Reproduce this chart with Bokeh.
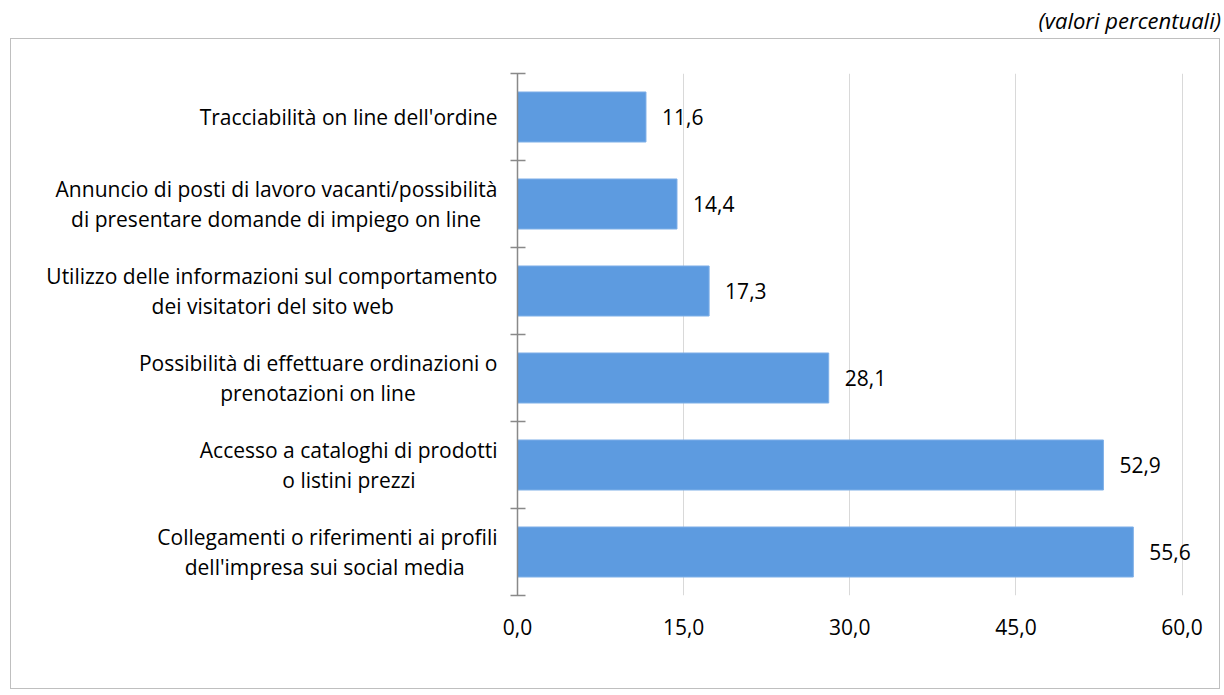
from bokeh.plotting import figure
from bokeh.models import Range1d, FixedTicker, ColumnDataSource, Div
from bokeh.layouts import column
from bokeh.core.properties import value
from bokeh.embed import file_html
from bokeh.resources import INLINE

# Data (top to bottom as shown in the chart)
categories = [
    "Tracciabilità on line dell'ordine",
    "Annuncio di posti di lavoro vacanti/possibilità\ndi presentare domande di impiego on line",
    "Utilizzo delle informazioni sul comportamento\ndei visitatori del sito web",
    "Possibilità di effettuare ordinazioni o\nprenotazioni on line",
    "Accesso a cataloghi di prodotti\no listini prezzi",
    "Collegamenti o riferimenti ai profili\ndell'impresa sui social media",
]
values = [11.6, 14.4, 17.3, 28.1, 52.9, 55.6]
x_ticks = [0, 15, 30, 45, 60]
x_tick_labels = ["0,0", "15,0", "30,0", "45,0", "60,0"]
subtitle = "(valori percentuali)"

FONT = "Open Sans"
FS = "21px"

# approximate Open Sans advance widths (units per em = 2048), used only to
# centre the second line of a two-line category label under the first one
_W = {"a": 1139, "b": 1255, "c": 975, "d": 1255, "e": 1149, "f": 694, "g": 1122,
      "h": 1257, "i": 518, "j": 518, "k": 1075, "l": 518, "m": 1905, "n": 1257,
      "o": 1237, "p": 1255, "q": 1255, "r": 836, "s": 977, "t": 723, "u": 1257,
      "v": 1026, "w": 1593, "x": 1073, "y": 1028, "z": 979, "à": 1139, " ": 532,
      "'": 393, "/": 753, "A": 1296, "C": 1292, "P": 1237, "T": 1145, "U": 1479}


def _width(s):
    return sum(_W.get(ch, 1150) for ch in s)


def centred(label):
    lines = label.split("\n")
    if len(lines) == 1:
        return label
    w = max(_width(l) for l in lines)
    out = []
    for l in lines:
        pad = int(round((w - _width(l)) / 2 / _W[" "]))
        out.append(l + "\u00a0" * pad)
    return "\n".join(out)


n = len(categories)
centers = [n - 0.5 - i for i in range(n)]
labels = [f"{v:.1f}".replace(".", ",") for v in values]

src = ColumnDataSource(dict(y=centers, v=values, lab=labels))

p = figure(width=1210, height=651, output_backend="svg", toolbar_location=None,
           x_range=Range1d(0, 63.2), y_range=Range1d(0, n),
           min_border_left=506, min_border_right=4, min_border_top=34,
           min_border_bottom=95,
           styles={"border": "1px solid #bfbfbf"})
p.margin = (0, 0, 0, 10)
p.outline_line_color = None
p.background_fill_color = "white"
p.border_fill_color = "white"

p.hbar(y="y", right="v", left=0, height=0.575, source=src,
       fill_color="#5D9BE0", line_color="#7FB0E8", line_width=1)

p.text(x="v", y="y", text="lab", source=src, x_offset=16,
       text_baseline="middle", text_align="left",
       text_font=value(FONT), text_font_size=FS, text_color="#000000")

# x axis
p.xaxis.ticker = FixedTicker(ticks=x_ticks)
p.xaxis.major_label_overrides = {t: l for t, l in zip(x_ticks, x_tick_labels)}
p.xaxis.axis_line_color = None
p.xaxis.major_tick_line_color = None
p.xaxis.minor_tick_line_color = None
p.xaxis.major_label_standoff = 17
p.xaxis.major_label_text_font = FONT
p.xaxis.major_label_text_font_size = FS
p.xaxis.major_label_text_color = "#000000"

p.xgrid.ticker = FixedTicker(ticks=x_ticks[1:])
p.xgrid.grid_line_color = "#d9d9d9"
p.ygrid.grid_line_color = None

# y axis: labels at category centres, ticks at category boundaries
p.yaxis.ticker = FixedTicker(ticks=centers, minor_ticks=list(range(n + 1)))
p.yaxis.major_label_overrides = {c: centred(lab) for c, lab in zip(centers, categories)}
p.yaxis.major_tick_line_color = None
p.yaxis.major_tick_in = 0
p.yaxis.major_tick_out = 0
p.yaxis.minor_tick_in = 8
p.yaxis.minor_tick_out = 7
p.yaxis.minor_tick_line_color = "#898989"
p.yaxis.minor_tick_line_width = 1.5
p.yaxis.axis_line_color = "#898989"
p.yaxis.axis_line_width = 1.5
p.yaxis.major_label_standoff = 13
p.yaxis.major_label_text_font = FONT
p.yaxis.major_label_text_font_size = FS
p.yaxis.major_label_text_line_height = 1.08
p.yaxis.major_label_text_color = "#000000"

div = Div(text=subtitle, width=1216, height=28,
          styles={"font-family": "Open Sans", "font-style": "italic", "font-size": "22px",
                  "text-align": "right", "color": "#000000", "line-height": "30px"})

layout = column(div, p)
open("out.html", "w").write(file_html(layout, INLINE))
